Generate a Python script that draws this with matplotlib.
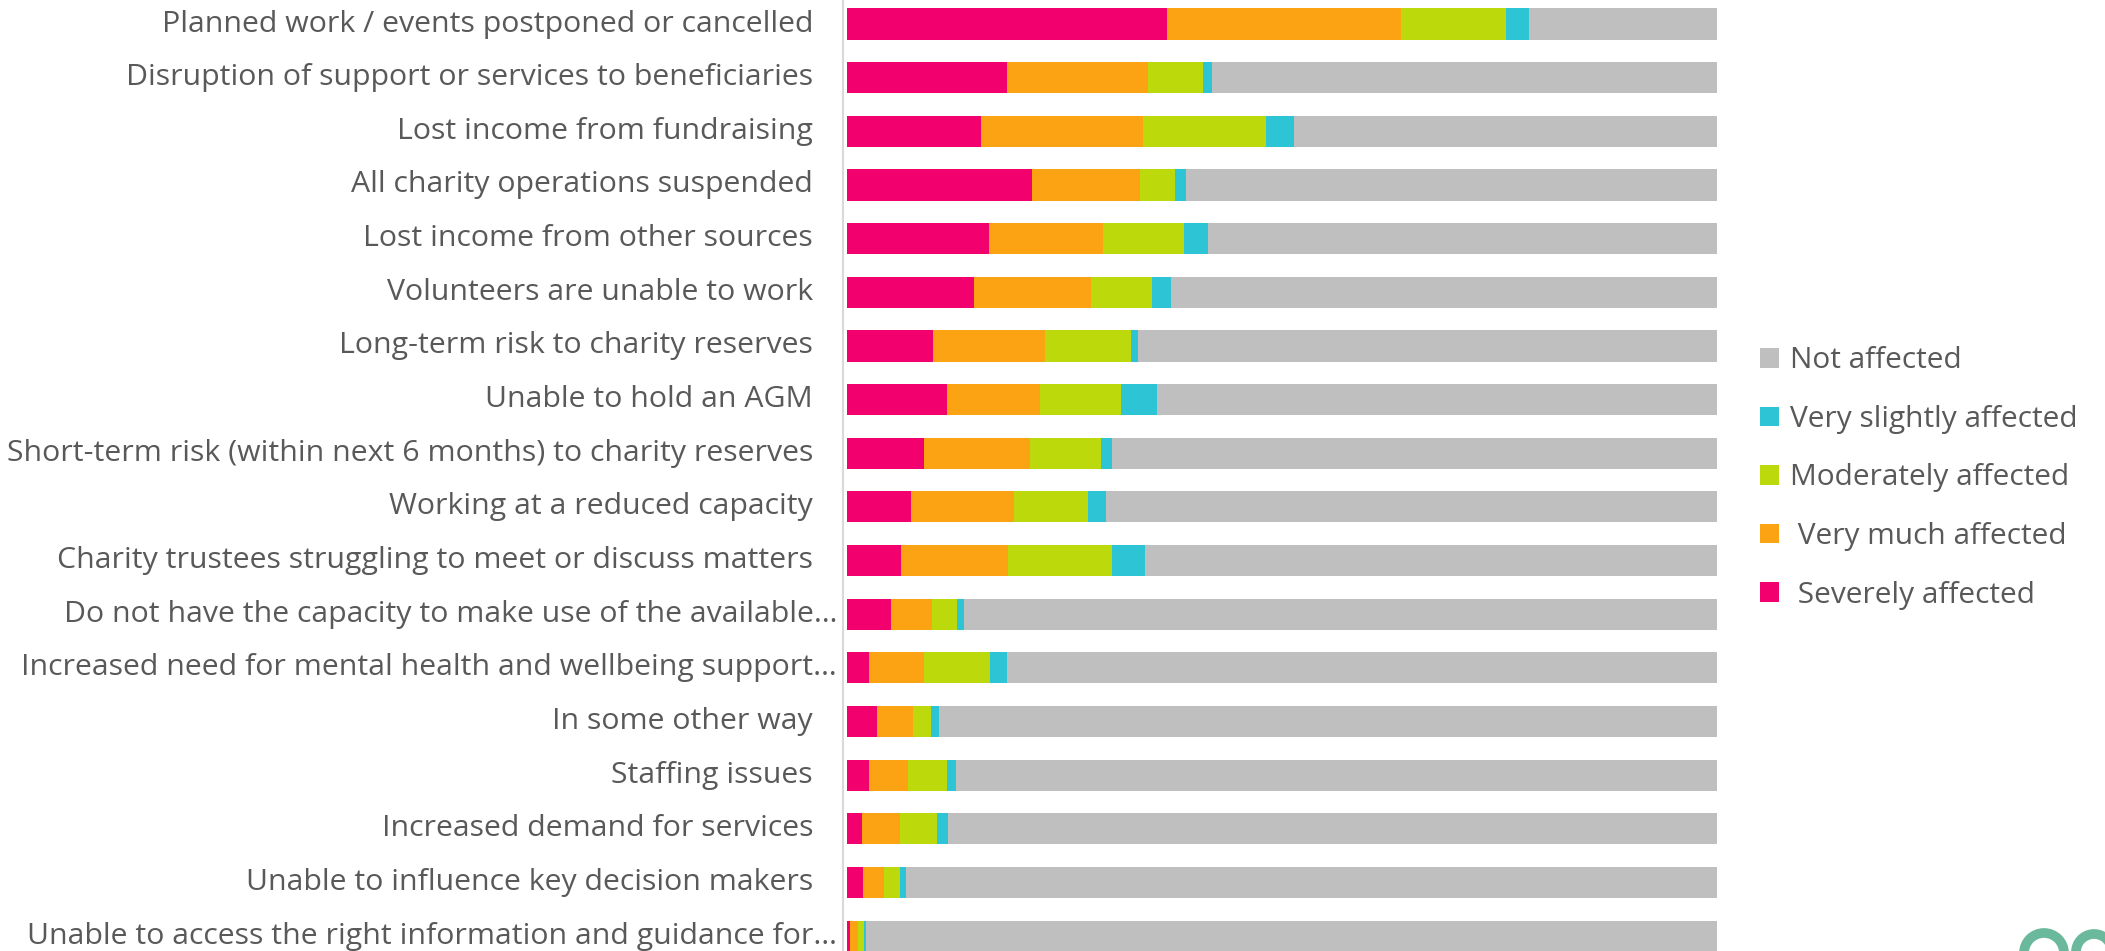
import matplotlib
matplotlib.use("Agg")
import matplotlib.pyplot as plt
import matplotlib.transforms as mtransforms
from matplotlib.patches import Patch, Arc
import numpy as np

plt.rcParams['font.family'] = ['Open Sans', 'DejaVu Sans']

categories = [
    "Planned work / events postponed or cancelled",
    "Disruption of support or services to beneficiaries",
    "Lost income from fundraising",
    "All charity operations suspended",
    "Lost income from other sources",
    "Volunteers are unable to work",
    "Long-term risk to charity reserves",
    "Unable to hold an AGM",
    "Short-term risk (within next 6 months) to charity reserves",
    "Working at a reduced capacity",
    "Charity trustees struggling to meet or discuss matters",
    "Do not have the capacity to make use of the available\u2026",
    "Increased need for mental health and wellbeing support\u2026",
    "In some other way",
    "Staffing issues",
    "Increased demand for services",
    "Unable to influence key decision makers",
    "Unable to access the right information and guidance for\u2026",
]

severely = [36.8, 18.4, 15.4, 21.3, 16.3, 14.6, 9.9, 11.5, 8.8, 7.3, 6.2, 5.0, 2.5, 3.4, 2.5, 1.7, 1.8, 0.3]
very_much = [26.9, 16.2, 18.6, 12.4, 13.1, 13.5, 12.9, 10.7, 12.2, 11.9, 12.3, 4.8, 6.3, 4.2, 4.5, 4.4, 2.4, 1.0]
moderately = [12.1, 6.3, 14.2, 4.0, 9.3, 6.9, 9.8, 9.3, 8.2, 8.5, 12.0, 2.9, 7.6, 2.1, 4.5, 4.2, 1.9, 0.7]
very_slightly = [2.6, 1.1, 3.2, 1.3, 2.8, 2.2, 0.9, 4.1, 1.3, 2.1, 3.7, 0.7, 2.0, 0.9, 1.0, 1.3, 0.7, 0.2]
not_affected = [21.6, 58.0, 48.6, 61.0, 58.5, 62.8, 66.5, 64.4, 69.5, 70.2, 65.8, 86.6, 81.6, 89.4, 87.5, 88.4, 93.2, 97.8]

series_names = ["Severely affected", "Very much affected", "Moderately affected",
                "Very slightly affected", "Not affected"]
series_values = [severely, very_much, moderately, very_slightly, not_affected]
colors = ["#F3006F", "#FCA314", "#BCDA0B", "#2DC5D6", "#BFBFBF"]

W, H = 2105, 951
fig = plt.figure(figsize=(W / 100, H / 100), dpi=100)
ax_left = 847 / W
ax_width = (1717 - 847) / W
ax_bottom = 1 - 963 / H
ax_height = (963 + 2.8) / H
ax = fig.add_axes([ax_left, ax_bottom, ax_width, ax_height])

y = np.arange(len(categories))
left = np.zeros(len(categories))
for name, vals, c in zip(series_names, series_values, colors):
    vals = np.array(vals)
    ax.barh(y, vals, left=left, height=0.58, color=c, edgecolor='none', label=name)
    left += vals

ax.set_xlim(0, left.max())
ax.set_ylim(len(categories) - 0.5, -0.5)
ax.set_xticks([])
ax.set_yticks([])
for s in ['top', 'right', 'bottom']:
    ax.spines[s].set_visible(False)
ax.spines['left'].set_color('#D9D9D9')
ax.spines['left'].set_linewidth(1.5)
ax.spines['left'].set_position(('outward', 3))

trans = mtransforms.blended_transform_factory(fig.transFigure, ax.transData)
for i, lab in enumerate(categories):
    xr = 837 / W if lab.endswith('\u2026') else 813 / W
    ax.text(xr, i, lab, transform=trans, ha='right', va='center',
            fontsize=21.8, color='#595959', clip_on=False)

fs_leg = 21.5
handles = [Patch(facecolor=c, edgecolor='none') for c in colors][::-1]
labels = ["Not affected", "Very slightly affected", "Moderately affected",
          " Very much affected", " Severely affected"]
leg = fig.legend(handles, labels, loc='center left', bbox_to_anchor=(1760 / W, 1 - 478 / H),
                 frameon=False, fontsize=fs_leg, handlelength=0.64, handleheight=0.64,
                 handletextpad=0.37, labelspacing=0.99, borderaxespad=0, borderpad=0)
for t in leg.get_texts():
    t.set_color('#595959')

# partial logo at bottom right (decoration, cut by the figure edge)
logo_color = '#6BB99D'
fig.patches.append(Arc((2044 / W, 1 - 953 / H), 40 / W, 40 / H, theta1=0, theta2=180,
                       transform=fig.transFigure, color=logo_color, linewidth=7))
fig.patches.append(Arc((2094 / W, 1 - 952 / H), 36 / W, 36 / H, theta1=20, theta2=180,
                       transform=fig.transFigure, color=logo_color, linewidth=7))

fig.savefig("out.png", dpi=100)
